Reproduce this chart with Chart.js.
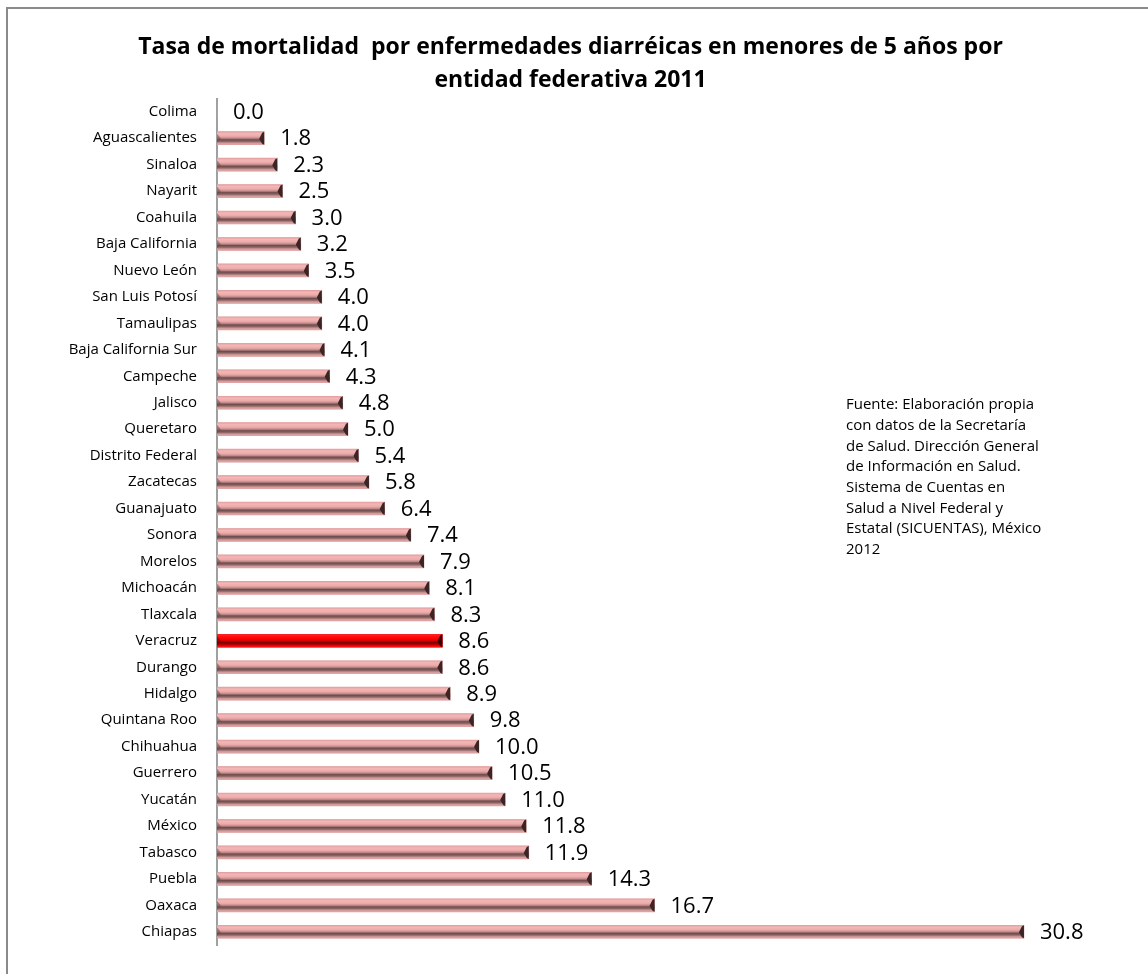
<!DOCTYPE html>
<html>
<head>
<meta charset="utf-8">
<script src="https://cdn.jsdelivr.net/npm/chart.js@4/dist/chart.umd.min.js"></script>
<style>
  html, body { margin: 0; padding: 0; background: #ffffff; }
  #wrap { position: relative; width: 1148px; height: 974px; }
</style>
</head>
<body>
<div id="wrap"><canvas id="c" width="1148" height="974"></canvas></div>
<script>
const categories = ["Colima","Aguascalientes","Sinaloa","Nayarit","Coahuila","Baja California","Nuevo León","San Luis Potosí","Tamaulipas","Baja California Sur","Campeche","Jalisco","Queretaro","Distrito Federal","Zacatecas","Guanajuato","Sonora","Morelos","Michoacán","Tlaxcala","Veracruz","Durango","Hidalgo","Quintana Roo","Chihuahua","Guerrero","Yucatán","México","Tabasco","Puebla","Oaxaca","Chiapas"];
const values = [0.0,1.8,2.3,2.5,3.0,3.2,3.5,4.0,4.0,4.1,4.3,4.8,5.0,5.4,5.8,6.4,7.4,7.9,8.1,8.3,8.6,8.6,8.9,9.8,10.0,10.5,11.0,11.8,11.9,14.3,16.7,30.8];
const highlighted = ["Veracruz"];
const titleLines = ["Tasa de mortalidad  por enfermedades diarréicas en menores de 5 años por", "entidad federativa 2011"];
const noteLines = ["Fuente: Elaboración propia", "con datos de la Secretaría", "de Salud. Dirección General", "de Información en Salud.", "Sistema de Cuentas en", "Salud a Nivel Federal y", "Estatal (SICUENTAS), México", "2012"];

const pinkStops = [[0,'#e4a0a0'],[0.15,'#f4b6b6'],[0.35,'#eeaaaa'],[0.5,'#c08a8a'],[0.62,'#6e4c4c'],[0.75,'#8c6464'],[0.88,'#d29a9a'],[1,'#e2a6a6']];
const redStops = [[0,'#ff3030'],[0.15,'#ff1010'],[0.35,'#ff0000'],[0.5,'#d40000'],[0.62,'#7e0000'],[0.75,'#a00000'],[0.88,'#f00000'],[1,'#ff2020']];

const framePlugin = {
  id: 'frame',
  beforeDraw(chart) {
    const ctx = chart.ctx;
    ctx.save();
    ctx.fillStyle = '#ffffff';
    ctx.fillRect(0, 0, chart.width, chart.height);
    ctx.strokeStyle = '#8a8a8a';
    ctx.lineWidth = 2;
    ctx.strokeRect(7, 8, chart.width + 20, chart.height + 20);
    ctx.restore();
  }
};

const barStylePlugin = {
  id: 'barStyle',
  afterDatasetsDraw(chart) {
    const ctx = chart.ctx;
    const meta = chart.getDatasetMeta(0);
    ctx.save();
    meta.data.forEach((bar, i) => {
      const p = bar.getProps(['x', 'y', 'base', 'height'], true);
      const top = p.y - p.height / 2, bot = p.y + p.height / 2;
      const left = Math.min(p.base, p.x), right = Math.max(p.base, p.x);
      if (right - left < 0.5) return;
      const isHi = highlighted.includes(categories[i]);
      const g = ctx.createLinearGradient(0, top, 0, bot);
      (isHi ? redStops : pinkStops).forEach(s => g.addColorStop(s[0], s[1]));
      ctx.fillStyle = g;
      ctx.fillRect(left, top, right - left, bot - top);
      const mid = p.y + 0.5;
      ctx.fillStyle = isHi ? '#3c0000' : '#3a2424';
      ctx.beginPath();
      ctx.moveTo(right, top);
      ctx.lineTo(right, bot);
      ctx.lineTo(right - 2, bot - 1);
      ctx.lineTo(right - 5, mid);
      ctx.lineTo(right - 2, top + 1);
      ctx.closePath();
      ctx.fill();
      ctx.fillStyle = isHi ? 'rgba(120,0,0,0.6)' : 'rgba(110,76,76,0.55)';
      ctx.beginPath();
      ctx.moveTo(left, top + 2);
      ctx.lineTo(left + 4, mid);
      ctx.lineTo(left, bot - 2);
      ctx.closePath();
      ctx.fill();
    });
    ctx.restore();
  }
};

const labelPlugin = {
  id: 'valueLabels',
  afterDatasetsDraw(chart) {
    const ctx = chart.ctx;
    const meta = chart.getDatasetMeta(0);
    ctx.save();
    ctx.font = '22px "Open Sans"';
    ctx.fillStyle = '#000000';
    ctx.textAlign = 'left';
    ctx.textBaseline = 'middle';
    meta.data.forEach((bar, i) => {
      const p = bar.getProps(['x', 'y'], true);
      ctx.fillText(values[i].toFixed(1), p.x + 16, p.y + 1);
    });
    ctx.restore();
  }
};

const notePlugin = {
  id: 'note',
  afterDraw(chart) {
    const ctx = chart.ctx;
    ctx.save();
    ctx.font = '15px "Open Sans"';
    ctx.fillStyle = '#000000';
    ctx.textAlign = 'left';
    ctx.textBaseline = 'middle';
    noteLines.forEach((t, i) => ctx.fillText(t, 846, 405 + i * 20.7));
    ctx.restore();
  }
};

new Chart(document.getElementById('c'), {
  type: 'bar',
  data: {
    labels: categories,
    datasets: [{
      data: values,
      backgroundColor: categories.map(c => highlighted.includes(c) ? '#e00000' : '#e0a0a0'),
      borderWidth: 0,
      barThickness: 13
    }]
  },
  options: {
    indexAxis: 'y',
    responsive: false,
    animation: false,
    events: [],
    layout: { padding: { left: 7, right: 14, top: 0, bottom: 9.5 } },
    plugins: {
      legend: { display: false },
      tooltip: { enabled: false },
      title: {
        display: true,
        text: titleLines,
        color: '#000000',
        font: { family: '"Open Sans"', size: 23, weight: 'bold', lineHeight: 33 / 23 },
        padding: { top: 30.5, bottom: 2 }
      }
    },
    scales: {
      x: { display: false, min: 0, max: 35 },
      y: {
        type: 'category',
        grid: { display: false, drawTicks: false },
        border: { display: true, color: '#a0a0a0', width: 2 },
        ticks: { color: '#000000', font: { family: '"Open Sans"', size: 15 }, padding: 20, autoSkip: false },
        afterFit(scale) { scale.width = 210; }
      }
    }
  },
  plugins: [framePlugin, barStylePlugin, labelPlugin, notePlugin]
});
</script>
</body>
</html>
